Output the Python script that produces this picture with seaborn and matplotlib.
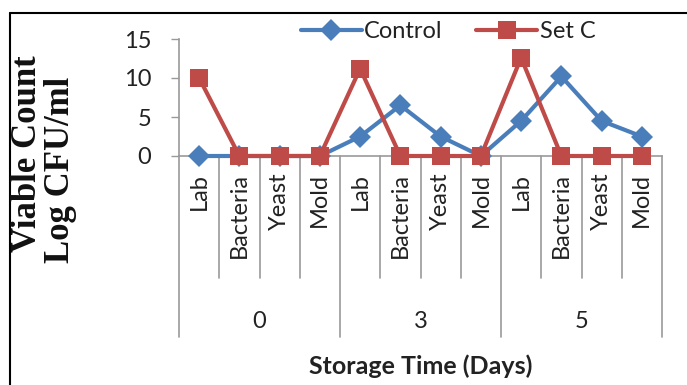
import matplotlib
matplotlib.use("Agg")
import matplotlib.pyplot as plt
import seaborn as sns
import pandas as pd
from matplotlib.lines import Line2D

days = ["0", "3", "5"]
microbes = ["Lab", "Bacteria", "Yeast", "Mold"]
control = [0, 0, 0, 0, 2.5, 6.5, 2.5, 0, 4.5, 10.2, 4.5, 2.5]
set_c = [10.0, 0, 0, 0, 11.2, 0, 0, 0, 12.6, 0, 0, 0]

keys = [f"{d}-{m}" for d in days for m in microbes]
df = pd.DataFrame({
    "key": keys * 2,
    "value": control + set_c,
    "series": ["Control"] * len(keys) + ["Set C"] * len(keys),
})

sns.set_theme(style="white")
plt.rcParams["font.family"] = ["Lato", "DejaVu Sans"]

W, H = 687, 385
fig = plt.figure(figsize=(W / 100, H / 100), dpi=100)
L, R, T, B = 179, 662, 39, 156
ax = fig.add_axes([L / W, 1 - B / H, (R - L) / W, (B - T) / H])

colors = {"Control": "#4A7EBB", "Set C": "#BE4B48"}
markers = {"Control": "D", "Set C": "s"}
sizes = {"Control": 11, "Set C": 13.5}
for name in ["Control", "Set C"]:
    sub = df[df["series"] == name]
    sns.lineplot(data=sub, x="key", y="value", ax=ax, color=colors[name],
                 marker=markers[name], markersize=sizes[name], linewidth=3,
                 markeredgewidth=0, sort=False, label=name, legend=False)
for ln in ax.get_lines():
    ln.set_clip_on(False)
    ln.set_zorder(5)

n = len(keys)
ax.set_xlim(-0.5, n - 0.5)
ax.set_ylim(0, 15)
ax.set_yticks([0, 5, 10, 15])
ax.set_xticks(range(n))
ax.set_xticklabels(microbes * len(days), rotation=90, va="top", ha="center")
ax.tick_params(axis="x", length=0, pad=12, labelsize=17, colors="#222222")
ax.tick_params(axis="y", length=6, width=1, color="#999999", pad=14,
               labelsize=17, left=True, direction="out", labelcolor="#222222")
for s in ["top", "right"]:
    ax.spines[s].set_visible(False)
for s in ["left", "bottom"]:
    ax.spines[s].set_color("#999999")
    ax.spines[s].set_linewidth(1.2)
ax.set_xlabel("")
ax.set_ylabel("")

trans = ax.get_xaxis_transform()
hpx = B - T
inner_y = -(278 - B) / hpx
outer_y = -(337 - B) / hpx
group_y = -(322 - B) / hpx
for i in range(n + 1):
    xb = i - 0.5
    yb = outer_y if i % len(microbes) == 0 else inner_y
    ax.add_line(Line2D([xb, xb], [0, yb], transform=trans, color="#999999",
                       lw=1.2, clip_on=False))
for g, d in enumerate(days):
    xc = g * len(microbes) + (len(microbes) - 1) / 2
    ax.text(xc, group_y, d, transform=trans, ha="center", va="center",
            fontsize=17, color="#222222")

fig.text((L + R) / 2 / W, 1 - 366 / H, "Storage Time (Days)", ha="center",
         va="center", fontsize=18, fontweight="bold", color="#222222")
fig.text(28 / W, 1 - 154 / H, "Viable Count", rotation=90, ha="center",
         va="center", fontsize=25, fontweight="bold",
         family=["Liberation Serif", "DejaVu Serif"], color="#111111")
fig.text(61 / W, 1 - 170 / H, "Log CFU/ml", rotation=90, ha="center",
         va="center", fontsize=25, fontweight="bold",
         family=["Liberation Serif", "DejaVu Serif"], color="#111111")

handles, labels = ax.get_legend_handles_labels()
fig.legend(handles, labels, loc="center", bbox_to_anchor=(448 / W, 1 - 32 / H),
           ncol=2, frameon=False, fontsize=17, handlelength=2.6,
           handletextpad=0.1, columnspacing=1.4, borderpad=0, labelcolor="#222222")

fig.add_artist(Line2D([10 / W, 10 / W], [0, 1 - 13 / H], color="black", lw=1.5))
fig.add_artist(Line2D([10 / W, 1], [1 - 13 / H, 1 - 13 / H], color="black", lw=1.5))

fig.savefig("out.png", dpi=100)
